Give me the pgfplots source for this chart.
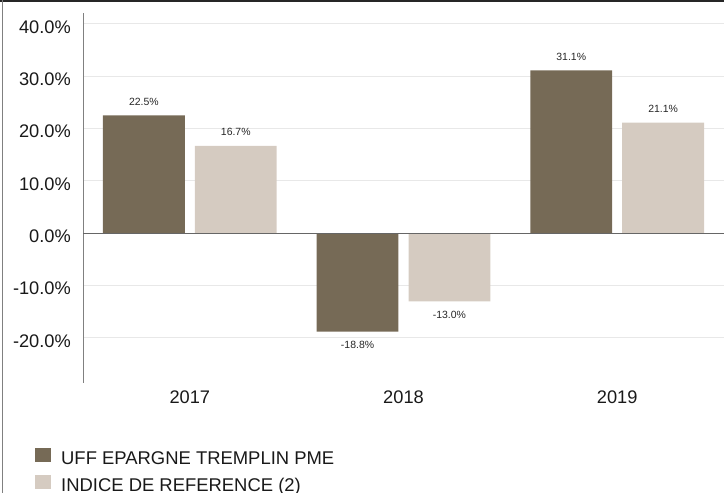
\documentclass[border=0pt]{standalone}
\usepackage{fontspec}
\setmainfont{Liberation Sans}
\usepackage{pgfplots}
\pgfplotsset{compat=1.18}
\definecolor{darkbar}{HTML}{766A56}
\definecolor{lightbar}{HTML}{D5CBC1}
\begin{document}
\begin{tikzpicture}[x=1bp,y=1bp]
\useasboundingbox (0,0) rectangle (724,493);
\draw[line width=1.6bp, black!85] (0,492.2) -- (724,492.2);
\draw[line width=1bp, black!50] (2.5,0) -- (2.5,493);
\begin{axis}[
  at={(83bp,110bp)}, anchor=south west,
  width=641bp, height=369.7bp, scale only axis,
  xmin=-0.5, xmax=2.5, ymin=-28.6, ymax=42,
  axis x line*=bottom, axis y line*=left,
  x axis line style={draw=none},
  y axis line style={-, draw=black!50, line width=1bp},
  major tick length=0pt,
  xtick={0,1,2}, xticklabels={2017,2018,2019},
  ytick={-20,-10,0,10,20,30,40},
  ymajorgrids, grid style={draw=black!9, line width=1bp},
  /pgf/number format/assume math mode=true,
  yticklabel={\pgfmathprintnumber[fixed,precision=1,fixed zerofill]{\tick}\%},
  ticklabel style={font=\fontsize{18.3}{21}\selectfont, text=black!90},
  yticklabel style={xshift=-8.7bp, yshift=-3bp},
  xticklabel style={yshift=-4bp},
  ybar, bar width=0.383,
  nodes near coords={\pgfmathprintnumber[fixed,precision=1,fixed zerofill,assume math mode=true]{\pgfplotspointmeta}\%},
  nodes near coords style={font=\fontsize{10.5}{12}\selectfont, text=black!85, inner xsep=0pt, inner ysep=9.5bp},
  legend image code/.code={\fill[#1] (0bp,-2bp) rectangle (16bp,11.7bp);},
  legend style={draw=none, fill=none, inner sep=0pt, at={(axis description cs:-0.0749,-0.1704)}, anchor=north west,
    font=\fontsize{18.5}{21}\selectfont, text=black!90,
    nodes={text height=13bp, text depth=4bp, inner ysep=5bp, inner xsep=10bp}},
  legend cell align=left,
  clip=false,
]
\addplot[fill=darkbar, draw=none, bar shift=-0.215] coordinates {(0,22.5) (1,-18.8) (2,31.1)};
\addplot[fill=lightbar, draw=none, bar shift=0.215] coordinates {(0,16.7) (1,-13.0) (2,21.1)};
\draw[black!60, line width=1bp] (axis cs:-0.5,0) -- (axis cs:2.5,0);
\legend{UFF EPARGNE TREMPLIN PME, INDICE DE REFERENCE (2)}
\end{axis}
\end{tikzpicture}
\end{document}
